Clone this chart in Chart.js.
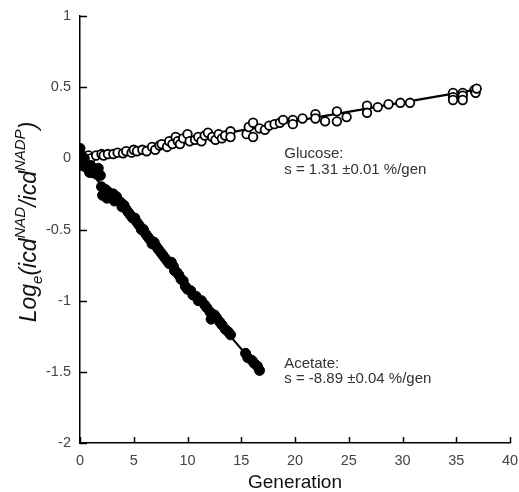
<!DOCTYPE html>
<html>
<head>
<meta charset="utf-8">
<script src="https://cdn.jsdelivr.net/npm/chart.js@4"></script>
<style>
html,body{margin:0;padding:0;background:#fff;}
#wrap{width:519px;height:492px;position:relative;}
</style>
</head>
<body>
<div id="wrap"><canvas id="c" width="519" height="492"></canvas></div>
<script>
// ---- Data ----
const glucoseGen = [0.1,0.2,0.5,0.8,1.0,1.5,2.0,2.2,2.6,3.1,3.5,4.0,4.3,4.8,5.0,5.3,5.8,6.2,6.7,7.0,7.4,7.6,8.1,8.3,8.6,8.9,9.1,9.3,9.6,10.0,10.2,10.7,11.0,11.3,11.6,11.9,12.3,12.6,12.9,13.2,13.5,14.0,14.0,15.5,15.7,16.1,16.1,16.7,17.2,17.6,18.1,18.6,18.9,19.8,19.8,20.7,21.9,21.9,22.8,23.9,23.9,24.8,26.7,26.7,27.7,28.7,29.8,30.7,34.7,34.7,34.7,35.6,35.6,35.6,36.7,36.8,36.9];
const glucoseVal = [0.00,0.02,0.01,0.02,0.00,0.02,0.03,0.02,0.03,0.03,0.04,0.035,0.05,0.04,0.06,0.05,0.06,0.05,0.08,0.06,0.09,0.10,0.08,0.12,0.10,0.15,0.12,0.10,0.14,0.17,0.12,0.13,0.15,0.12,0.16,0.18,0.15,0.13,0.17,0.14,0.16,0.19,0.15,0.17,0.22,0.25,0.15,0.21,0.20,0.23,0.24,0.25,0.27,0.27,0.24,0.28,0.31,0.28,0.26,0.33,0.26,0.29,0.37,0.32,0.36,0.38,0.39,0.39,0.46,0.43,0.41,0.46,0.44,0.41,0.48,0.46,0.49];

const acetateGen = [0.0,0.0,0.1,0.2,0.4,0.5,0.8,0.9,1.0,1.2,1.3,1.5,1.6,1.7,1.9,2.0,2.1,2.3,2.4,2.5,2.7,2.9,3.1,3.2,3.4,3.6,3.8,3.9,4.1,4.3,4.5,4.7,4.9,5.1,5.3,5.5,5.7,5.9,6.1,6.3,6.5,6.7,6.9,7.1,7.3,7.5,7.7,7.9,8.1,8.3,8.5,8.7,8.8,9.0,9.2,9.4,9.6,9.8,10.0,10.3,10.5,10.8,11.0,11.3,11.6,11.8,12.1,12.2,12.5,12.7,13.0,13.2,13.5,13.8,14.0,15.4,15.6,16.0,16.2,16.5,16.7];
const acetateVal = [0.07,-0.03,0.02,-0.05,0.00,-0.06,-0.08,-0.10,-0.05,-0.10,-0.08,-0.11,-0.10,-0.07,-0.12,-0.20,-0.26,-0.25,-0.22,-0.28,-0.24,-0.27,-0.25,-0.30,-0.27,-0.30,-0.31,-0.34,-0.33,-0.36,-0.38,-0.40,-0.42,-0.42,-0.45,-0.47,-0.50,-0.50,-0.53,-0.55,-0.57,-0.60,-0.59,-0.62,-0.64,-0.66,-0.68,-0.70,-0.72,-0.74,-0.73,-0.76,-0.79,-0.80,-0.82,-0.85,-0.86,-0.90,-0.92,-0.93,-0.96,-0.97,-1.00,-1.00,-1.03,-1.05,-1.08,-1.13,-1.10,-1.12,-1.15,-1.17,-1.20,-1.22,-1.24,-1.37,-1.40,-1.42,-1.44,-1.46,-1.49];

const glucoseFitGen = [0, 37];
const glucoseFitVal = [0.0, 0.485];
const acetateFitGen = [0, 16.7];
const acetateFitVal = [-0.01, -1.49];

const xTicks = [0,5,10,15,20,25,30,35,40];
const yTicks = [1,0.5,0,-0.5,-1,-1.5,-2];

const annotations = [
  {x: 19.0, y: 0.0, lines: ["Glucose:", "s = 1.31 \u00b10.01 %/gen"]},
  {x: 19.0, y: -1.47, lines: ["Acetate:", "s = -8.89 \u00b10.04 %/gen"]}
];

const zip = (xs, ys) => xs.map((x, i) => ({x: x, y: ys[i]}));

const FONT = '"Liberation Sans", Arial, Helvetica, sans-serif';

const decorPlugin = {
  id: 'decor',
  afterDraw(chart) {
    const ctx = chart.ctx;
    const xs = chart.scales.x, ys = chart.scales.y;
    const area = chart.chartArea;
    ctx.save();
    // inward tick marks
    ctx.strokeStyle = '#000';
    ctx.lineWidth = 1.5;
    ctx.beginPath();
    xTicks.forEach(t => {
      const px = Math.round(xs.getPixelForValue(t)) + 0.5;
      ctx.moveTo(px, area.bottom);
      ctx.lineTo(px, area.bottom - 6);
    });
    yTicks.forEach(t => {
      const py = Math.round(ys.getPixelForValue(t)) + 0.5;
      ctx.moveTo(area.left, py);
      ctx.lineTo(area.left + 7, py);
    });
    ctx.stroke();

    // annotations
    ctx.fillStyle = '#333';
    ctx.font = '15px ' + FONT;
    ctx.textBaseline = 'alphabetic';
    ctx.textAlign = 'left';
    annotations.forEach(a => {
      const px = xs.getPixelForValue(a.x);
      const py = ys.getPixelForValue(a.y);
      a.lines.forEach((l, i) => ctx.fillText(l, px, py + i * 15.5));
    });

    // y axis title with sub/superscripts, rotated
    const parts = [
      {t: 'Log', s: 23, dy: 0},
      {t: 'e', s: 15, dy: 6},
      {t: '(icd', s: 23, dy: 0},
      {t: 'NAD', s: 15, dy: -11},
      {t: '/icd', s: 23, dy: 0},
      {t: 'NADP', s: 15, dy: -11},
      {t: ')', s: 23, dy: 0}
    ];
    let total = 0;
    parts.forEach(p => { ctx.font = 'italic ' + p.s + 'px ' + FONT; p.w = ctx.measureText(p.t).width; total += p.w; });
    ctx.translate(36, 222);
    ctx.rotate(-Math.PI / 2);
    ctx.fillStyle = '#111';
    let cx = -total / 2;
    parts.forEach(p => {
      ctx.font = 'italic ' + p.s + 'px ' + FONT;
      ctx.fillText(p.t, cx, p.dy);
      cx += p.w;
    });
    ctx.restore();
  }
};

new Chart(document.getElementById('c'), {
  type: 'scatter',
  data: {
    datasets: [
      {
        label: 'Glucose fit', type: 'line', data: zip(glucoseFitGen, glucoseFitVal),
        borderColor: '#000', borderWidth: 2.2, pointRadius: 0, fill: false, order: 3
      },
      {
        label: 'Acetate fit', type: 'line', data: zip(acetateFitGen, acetateFitVal),
        borderColor: '#000', borderWidth: 2.2, pointRadius: 0, fill: false, order: 3
      },
      {
        label: 'Glucose', data: zip(glucoseGen, glucoseVal),
        pointStyle: 'circle', pointRadius: 4.3, pointBorderWidth: 1.8,
        pointBackgroundColor: '#fff', pointBorderColor: '#000', order: 2
      },
      {
        label: 'Acetate', data: zip(acetateGen, acetateVal),
        pointStyle: 'circle', pointRadius: 5, pointBorderWidth: 1,
        pointBackgroundColor: '#000', pointBorderColor: '#000', order: 1
      }
    ]
  },
  options: {
    responsive: false,
    animation: false,
    layout: {padding: {top: 16, right: 0, left: 0, bottom: 0}},
    plugins: {legend: {display: false}, tooltip: {enabled: false}},
    scales: {
      x: {
        type: 'linear', min: 0, max: 40,
        afterBuildTicks: s => { s.ticks = xTicks.map(v => ({value: v})); },
        afterFit: s => { s.height = 49; s.paddingLeft = 0; s.paddingRight = 9; },
        grid: {display: false, drawTicks: false},
        border: {display: true, color: '#000', width: 1.5},
        ticks: {color: '#444', font: {family: FONT, size: 14.5}, padding: 9, maxRotation: 0, callback: v => String(v)},
        title: {display: true, text: 'Generation', color: '#111', font: {family: FONT, size: 19, lineHeight: 1}, padding: {top: 0, bottom: 0}}
      },
      y: {
        type: 'linear', min: -2, max: 1,
        afterBuildTicks: s => { s.ticks = yTicks.map(v => ({value: v})); },
        afterFit: s => { s.width = 80; s.paddingTop = 0; s.paddingBottom = 0; },
        grid: {display: false, drawTicks: false},
        border: {display: true, color: '#000', width: 1.5},
        ticks: {color: '#444', font: {family: FONT, size: 14.5}, padding: 9, callback: v => String(v)}
      }
    }
  },
  plugins: [decorPlugin]
});
</script>
</body>
</html>
